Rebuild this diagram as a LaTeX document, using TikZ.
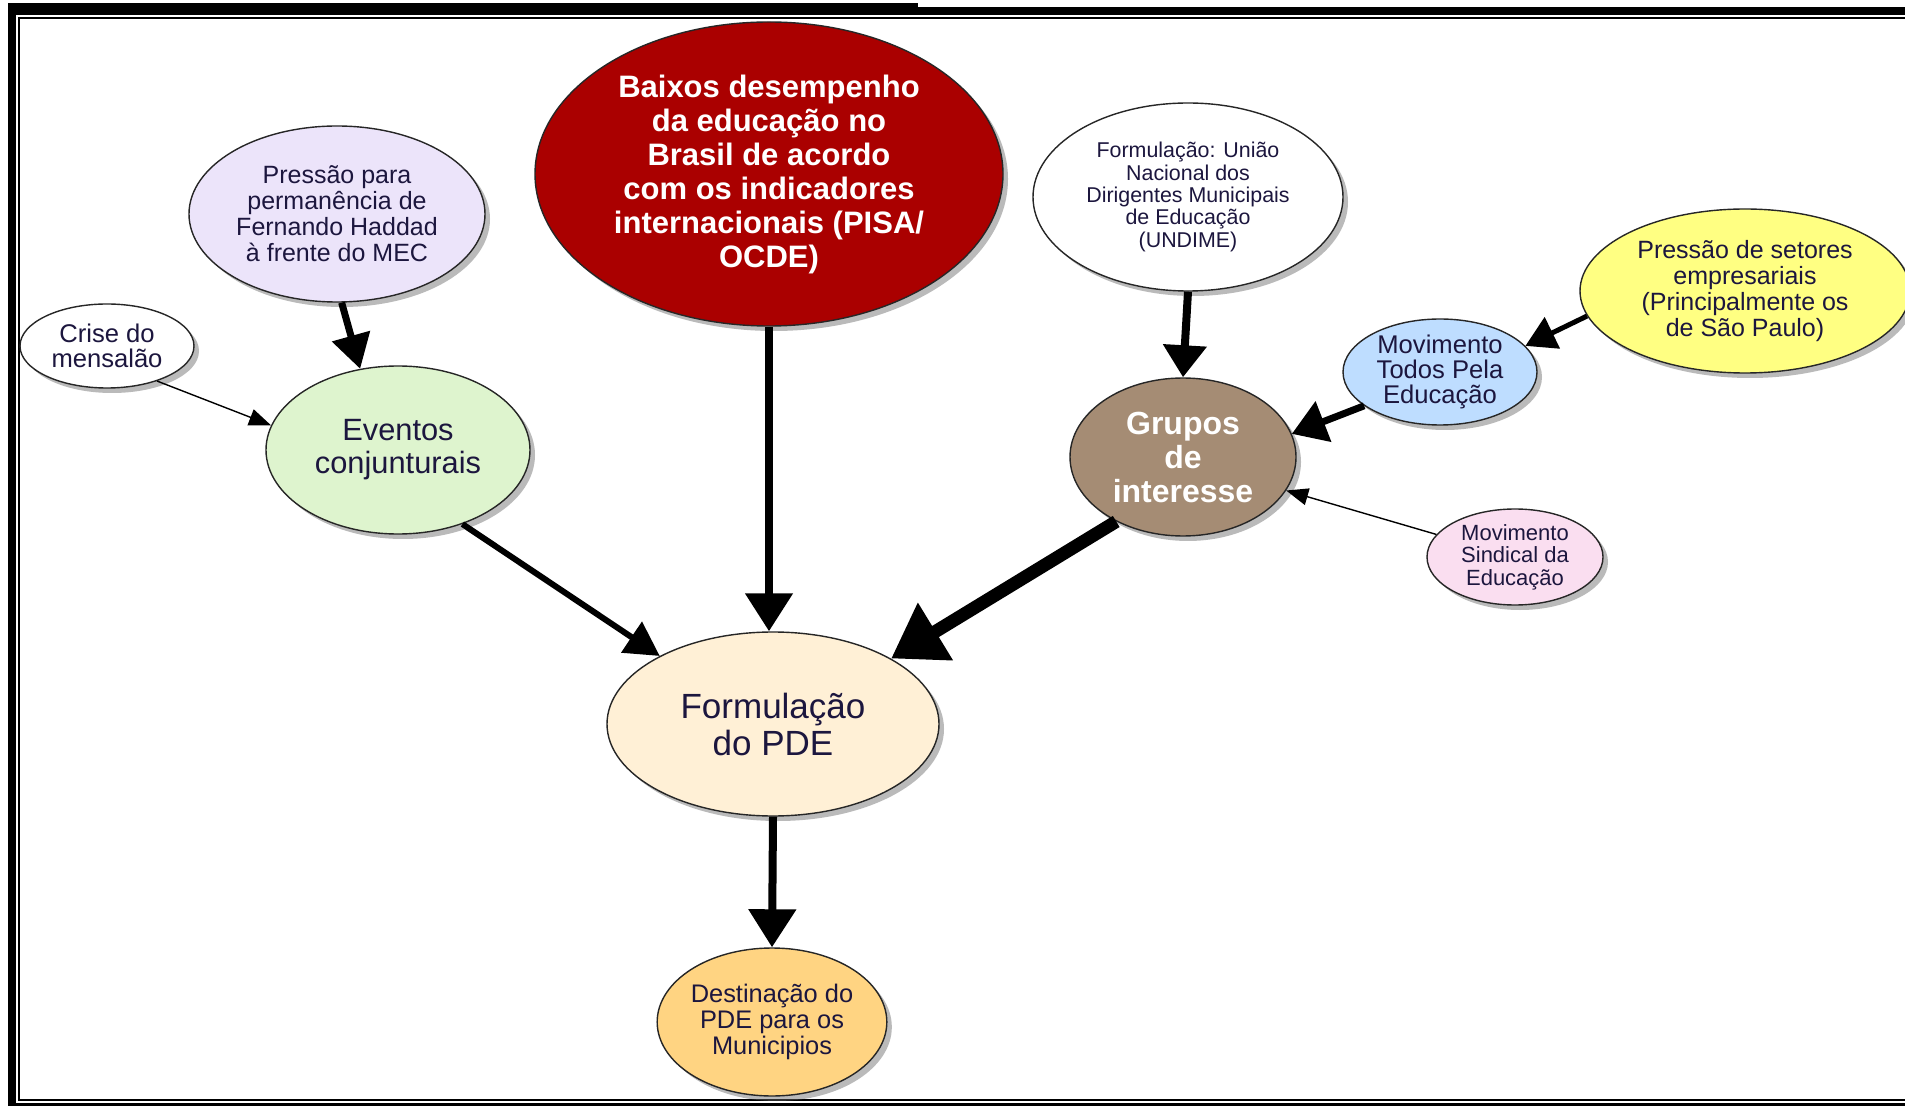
\documentclass[tikz,border=0pt]{standalone}
\usepackage{fontspec}
\setmainfont{Liberation Sans}
\usetikzlibrary{shapes.geometric,shadows,arrows.meta}

\definecolor{ink}{RGB}{28,22,62}
\definecolor{darkred}{RGB}{170,0,0}
\definecolor{lilac}{RGB}{236,228,250}
\definecolor{palegreen}{RGB}{222,244,206}
\definecolor{cream}{RGB}{255,240,214}
\definecolor{apricot}{RGB}{255,212,130}
\definecolor{taupe}{RGB}{165,140,116}
\definecolor{skyblue}{RGB}{190,221,255}
\definecolor{lemon}{RGB}{255,255,130}
\definecolor{blush}{RGB}{250,222,240}

\begin{document}
\begin{tikzpicture}[x=0.5pt, y=-0.5pt,
    bubble/.style={ellipse, draw=black!85, line width=0.7pt, inner sep=0pt, align=center, text=ink,
        drop shadow={shadow xshift=2.5pt, shadow yshift=-2.5pt, fill=black!60, opacity=0.45}},
    fat/.style={line width=4pt, -{Triangle[length=19pt,width=23pt]}},
    slim/.style={line width=0.7pt, -{Triangle[length=11pt,width=8.5pt]}}
  ]
  \useasboundingbox (0,0) rectangle (1905,1106);
  \clip (0,0) rectangle (1905,1106);

  % moldura
  \fill (8,3) rectangle (918,7);
  \fill (8,7) rectangle (1920,1120);
  \fill[white] (16,15) rectangle (1920,1103);
  \draw[line width=1pt] (1920,18) -- (19,18) -- (19,1100) -- (1920,1100);

  % nos
  \node[bubble, fill=darkred, text=white, minimum width=234pt, minimum height=152pt,
        font=\fontsize{15.5}{17}\selectfont\bfseries] (baixos) at (769,174)
        {Baixos desempenho\\da educação no\\Brasil de acordo\\com os indicadores\\internacionais (PISA/\\OCDE)};
  \node[bubble, fill=lilac, minimum width=148pt, minimum height=88pt,
        font=\fontsize{12.5}{13}\selectfont] (press) at (337,214)
        {Pressão para\\permanência de\\Fernando Haddad\\à frente do MEC};
  \node[bubble, fill=white, minimum width=87pt, minimum height=42pt,
        font=\fontsize{12.8}{12.8}\selectfont] (crise) at (107,346)
        {Crise do\\mensalão};
  \node[bubble, fill=palegreen, minimum width=132pt, minimum height=84pt,
        font=\fontsize{15.4}{16.4}\selectfont] (event) at (398,450)
        {Eventos\\conjunturais};
  \node[bubble, fill=cream, minimum width=166pt, minimum height=92pt,
        font=\fontsize{17.5}{18.5}\selectfont] (form) at (773,724)
        {Formulação\\do PDE};
  \node[bubble, fill=apricot, minimum width=114pt, minimum height=74pt,
        font=\fontsize{12.7}{13}\selectfont] (dest) at (772,1022)
        {Destinação do\\PDE para os\\Municipios};
  \node[bubble, fill=white, minimum width=155pt, minimum height=94pt,
        font=\fontsize{10.7}{11.2}\selectfont] (undime) at (1188,197)
        {Formulação: União\\Nacional dos\\Dirigentes Municipais\\de Educação\\(UNDIME)};
  \node[bubble, fill=taupe, text=white, minimum width=113pt, minimum height=79pt,
        font=\fontsize{16}{17}\selectfont\bfseries] (grupos) at (1183,457)
        {Grupos\\de\\interesse};
  \node[bubble, fill=skyblue, minimum width=97pt, minimum height=53pt,
        font=\fontsize{12.8}{12.6}\selectfont] (todos) at (1440,372)
        {Movimento\\Todos Pela\\Educação};
  \node[bubble, fill=lemon, minimum width=165pt, minimum height=82pt,
        font=\fontsize{12.5}{13}\selectfont] (empres) at (1745,291)
        {Pressão de setores\\empresariais\\(Principalmente os\\de São Paulo)};
  \node[bubble, fill=blush, minimum width=88pt, minimum height=48pt,
        font=\fontsize{11}{11.2}\selectfont] (sind) at (1515,557)
        {Movimento\\Sindical da\\Educação};

  % setas
  \draw[fat, line width=3.5pt, -{Triangle[length=17pt,width=19pt]}] (press.-87) -- (event.115);
  \draw[slim] (crise.-35) -- (event.169);
  \draw[fat, line width=3pt, -{Triangle[length=17pt,width=18pt]}] (event.-49) -- (form.149);
  \draw[fat] (baixos.south) -- (baixos.south |- form.north);
  \draw[fat, line width=6.5pt, -{Triangle[length=26pt,width=32pt]}] (grupos.-136) -- (form.29);
  \draw[fat, -{Triangle[length=16pt,width=21pt]}] (undime.south) -- (grupos.north);
  \draw[fat, line width=3.5pt, -{Triangle[length=17pt,width=21pt]}] (todos.-156) -- (grupos.12);
  \draw[fat, line width=2.5pt, -{Triangle[length=15pt,width=17pt]}] (empres.-171) -- (todos.17);
  \draw[slim] (sind.164) -- (grupos.-18);
  \draw[fat] (form.south) -- (dest.north);
\end{tikzpicture}
\end{document}
